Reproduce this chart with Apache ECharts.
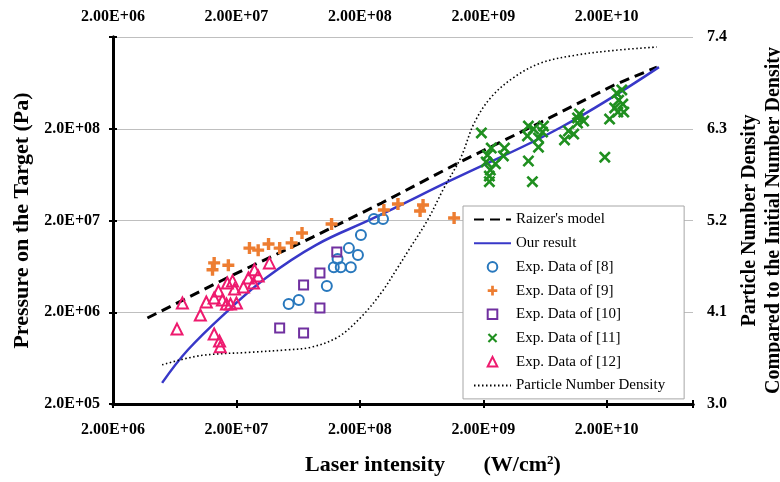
<!DOCTYPE html>
<html>
<head>
<meta charset="utf-8">
<script src="https://cdn.jsdelivr.net/npm/echarts@6/dist/echarts.min.js"></script>
<style>
html, body { margin: 0; padding: 0; background: #fff; }
#chart { width: 780px; height: 482px; }
</style>
</head>
<body>
<div id="chart"></div>
<script>
// tick labels
const xTickLabels = ['2.00E+06', '2.00E+07', '2.00E+08', '2.00E+09', '2.00E+10'];
const yTickLabels = ['2.0E+05', '2.0E+06', '2.0E+07', '2.0E+08'];
const rightTickLabels = ['3.0', '4.1', '5.2', '6.3', '7.4'];

// curves: laser intensity (W/cm2) -> pressure (Pa)
const raizerI = [3.8e6, 1.8e7, 8.3e7, 3.0e8, 1.3e9, 5.9e9, 2.3e10, 5.1e10];
const raizerP = [1.73e6, 4.97e6, 1.32e7, 3.1e7, 8.7e7, 2.37e8, 6.0e8, 9.4e8];
const ourI = [5.0e6, 8.1e6, 1.72e7, 3.44e7, 8.8e7, 2.6e8, 1.1e9, 8.6e9, 5.3e10];
const ourP = [3.4e5, 7.8e5, 2.1e6, 4.7e6, 1.08e7, 2.13e7, 5.5e7, 2.09e8, 9.4e8];

// particle number density (right axis)
const densI = [5.0e6, 1.02e7, 2.6e7, 5.2e7, 8.0e7, 1.32e8, 2.04e8, 2.97e8, 4.07e8, 5.0e8,
  7.1e8, 9.6e8, 1.32e9, 1.69e9, 2.32e9, 3.57e9, 5.9e9, 1.1e10, 2.32e10, 5.1e10];
const densN = [3.47, 3.58, 3.62, 3.65, 3.68, 3.80, 4.04, 4.33, 4.64, 4.85,
  5.21, 5.59, 5.96, 6.37, 6.68, 6.92, 7.09, 7.18, 7.24, 7.28];

// experimental data
const exp8I = [5.3e7, 6.4e7, 1.08e8, 1.23e8, 1.40e8, 1.69e8, 1.32e8, 1.63e8, 1.93e8, 2.04e8, 2.6e8, 3.08e8];
const exp8P = [2.46e6, 2.72e6, 3.86e6, 6.2e6, 6.2e6, 6.2e6, 7.6e6, 1.0e7, 8.4e6, 1.39e7, 2.08e7, 2.08e7];

const exp9I = [1.28e7, 1.32e7, 1.72e7, 2.55e7, 3.0e7, 3.64e7, 4.48e7, 5.6e7, 6.8e7, 1.18e8,
  3.13e8, 4.07e8, 6.15e8, 6.5e8, 1.16e9];
const exp9P = [5.8e6, 6.9e6, 6.5e6, 1.0e7, 9.5e6, 1.11e7, 1.0e7, 1.14e7, 1.46e7, 1.83e7,
  2.6e7, 3.03e7, 2.54e7, 2.95e7, 2.13e7];

const exp10I = [4.48e7, 7.0e7, 7.0e7, 9.5e7, 9.5e7, 1.3e8];
const exp10P = [1.35e6, 1.19e6, 3.96e6, 2.22e6, 5.36e6, 9.1e6];

const exp11I = [1.93e9, 2.32e9, 2.16e9, 2.11e9, 2.51e9, 2.91e9, 2.97e9, 2.28e9, 2.24e9, 2.24e9,
  4.64e9, 4.56e9, 5.1e9, 5.6e9, 5.6e9, 6.15e9, 6.04e9, 4.64e9, 5.0e9,
  9.1e9, 9.8e9, 1.08e10, 1.16e10, 1.2e10, 1.3e10, 1.16e10,
  1.93e10, 2.11e10, 2.32e10, 2.41e10, 2.65e10, 2.5e10, 2.7e10, 2.75e10, 2.46e10];
const exp11P = [1.8e8, 1.23e8, 1.03e8, 8.7e7, 8.3e7, 1.01e8, 1.23e8, 7.1e7, 6.1e7, 5.3e7,
  2.14e8, 1.67e8, 1.99e8, 1.59e8, 1.26e8, 2.14e8, 1.84e8, 8.9e7, 5.3e7,
  1.51e8, 1.89e8, 1.75e8, 2.31e8, 2.9e8, 2.43e8, 2.62e8,
  9.8e7, 2.55e8, 3.37e8, 4.9e8, 5.3e8, 4.1e8, 3.72e8, 3.04e8, 3.04e8];

const exp12I = [6.6e6, 7.3e6, 1.02e7, 1.14e7, 1.32e7, 1.46e7, 1.48e7, 1.32e7, 1.43e7, 1.54e7,
  1.66e7, 1.79e7, 1.69e7, 1.86e7, 1.93e7, 2.0e7, 2.28e7, 2.5e7, 2.8e7, 2.75e7, 3.0e7, 3.7e7];
const exp12P = [1.31e6, 2.52e6, 1.87e6, 2.59e6, 1.16e6, 9.7e5, 8.4e5, 2.86e6, 3.41e6, 2.72e6,
  2.46e6, 2.46e6, 4.17e6, 4.39e6, 3.58e6, 2.52e6, 3.77e6, 4.72e6, 5.8e6, 4.17e6, 4.97e6, 6.9e6];

const FONT = '"Liberation Serif", "Times New Roman", serif';
const X0 = 2e6, Y0 = 2e5, N0 = 3.0;
const lx = v => Math.log10(v / X0);
const ly = v => Math.log10(v / Y0);
const pairs = (xs, ys) => xs.map((x, i) => [lx(x), ly(ys[i])]);
const isWhole = v => Math.abs(v - Math.round(v)) < 1e-6;

const PLUS = 'path://M4.3,0H7.7V4.3H12V7.7H7.7V12H4.3V7.7H0V4.3H4.3Z';
const CROSS = 'path://M0,1.7L1.7,0L5.5,3.8L9.3,0L11,1.7L7.2,5.5L11,9.3L9.3,11L5.5,7.2L1.7,11L0,9.3L3.8,5.5Z';

const chart = echarts.init(document.getElementById('chart'));

const xLabel = v => isWhole(v) ? (xTickLabels[Math.round(v)] || '') : '';
const axisLine = { show: true, lineStyle: { color: '#000', width: 3 } };
const axisTick = { show: true, inside: true, length: 4, lineStyle: { color: '#000', width: 2 } };
const labelStyle = { fontFamily: FONT, fontWeight: 'bold', fontSize: 16, color: '#000' };

// markers as invisible-line series so the legend icon matches the marker
function markers(name, data, symbol, size, color, hollow) {
  return {
    name: name, type: 'line', data: data,
    symbol: symbol, symbolSize: size, showSymbol: true, showAllSymbol: true,
    lineStyle: { color: 'rgba(0,0,0,0)', width: 1 },
    itemStyle: hollow
      ? { color: 'rgba(255,255,255,0)', borderColor: color, borderWidth: 2 }
      : { color: color, borderWidth: 0 },
    z: 4
  };
}

// legend entries for plain curves: line only, no dot
const curveEntry = name => ({ name: name, itemStyle: { opacity: 0 } });

const option = {
  animation: false,
  backgroundColor: '#fff',
  grid: { left: 113, right: 87, top: 37, bottom: 78, outerBoundsMode: 'none' },
  legend: {
    orient: 'vertical',
    left: 463, top: 206,
    padding: [6, 19, 6, 10],
    itemWidth: 37, itemHeight: 12, itemGap: 8.7,
    backgroundColor: '#fff',
    borderColor: '#a6a6a6', borderWidth: 1, borderRadius: 0,
    textStyle: { fontFamily: FONT, fontSize: 15, color: '#000' },
    data: [curveEntry("Raizer's model"), curveEntry('Our result'), 'Exp. Data of [8]', 'Exp. Data of [9]',
      'Exp. Data of [10]', 'Exp. Data of [11]', 'Exp. Data of [12]', curveEntry('Particle Number Density')],
    z: 10
  },
  xAxis: [{
    type: 'value', position: 'bottom', min: 0, max: lx(1e11), interval: 1,
    name: 'Laser intensity       (W/cm{sup|2})',
    nameLocation: 'middle', nameGap: 50,
    nameTextStyle: {
      fontFamily: FONT, fontWeight: 'bold', fontSize: 22, color: '#000', padding: [0, 0, 0, 60],
      rich: { sup: { fontFamily: FONT, fontWeight: 'bold', fontSize: 13, color: '#000', verticalAlign: 'top', padding: [0, 0, 10, 0] } }
    },
    axisLine: axisLine, axisTick: axisTick,
    axisLabel: Object.assign({ margin: 18, formatter: xLabel }, labelStyle),
    splitLine: { show: false }
  }, {
    type: 'value', position: 'top', min: 0, max: lx(1e11), interval: 1,
    axisLine: axisLine, axisTick: axisTick,
    axisLabel: Object.assign({ margin: 12, formatter: xLabel }, labelStyle),
    splitLine: { show: false }
  }],
  yAxis: [{
    type: 'value', position: 'left', min: 0, max: 4, interval: 1,
    name: 'Pressure on the Target (Pa)',
    nameLocation: 'middle', nameGap: 72, nameRotate: 90,
    nameTextStyle: { fontFamily: FONT, fontWeight: 'bold', fontSize: 22, color: '#000' },
    axisLine: axisLine, axisTick: axisTick,
    axisLabel: Object.assign({ margin: 13, formatter: v => yTickLabels[Math.round(v)] || '' }, labelStyle),
    splitLine: { show: true, lineStyle: { color: '#bfbfbf', width: 1 } }
  }, {
    type: 'value', position: 'right', min: 0, max: 4.4, interval: 1.1,
    name: 'Particle Number Density\nCompared to the Initial Number Density',
    nameLocation: 'middle', nameGap: 37, nameRotate: 90,
    nameTextStyle: { fontFamily: FONT, fontWeight: 'bold', fontSize: 20, lineHeight: 24, color: '#000' },
    axisLine: axisLine, axisTick: axisTick,
    axisLabel: Object.assign({ margin: 14, formatter: v => rightTickLabels[Math.round(v / 1.1)] || '' }, labelStyle),
    splitLine: { show: false }
  }],
  series: [
    {
      name: "Raizer's model", type: 'line', data: pairs(raizerI, raizerP),
      symbol: 'none', lineStyle: { color: '#000', width: 3, type: [10, 6] }, z: 3
    },
    {
      name: 'Our result', type: 'line', data: pairs(ourI, ourP), smooth: 0.4,
      symbol: 'none', lineStyle: { color: '#3838c8', width: 2.5 }, z: 3
    },
    {
      name: 'Particle Number Density', type: 'line', yAxisIndex: 1,
      data: densI.map((x, i) => [lx(x), densN[i] - N0]), smooth: 0.35,
      symbol: 'none', lineStyle: { color: '#000', width: 1.6, type: [1.5, 2.5] }, z: 3
    },
    markers('Exp. Data of [8]', pairs(exp8I, exp8P), 'circle', 10, '#2878bd', true),
    markers('Exp. Data of [9]', pairs(exp9I, exp9P), PLUS, 12, '#ed7d31', false),
    markers('Exp. Data of [10]', pairs(exp10I, exp10P), 'rect', 9, '#7030a0', true),
    markers('Exp. Data of [11]', pairs(exp11I, exp11P), CROSS, 12, '#1f8f1f', false),
    markers('Exp. Data of [12]', pairs(exp12I, exp12P), 'triangle', 11, '#ee1a6e', true)
  ]
};

chart.setOption(option);
</script>
</body>
</html>
